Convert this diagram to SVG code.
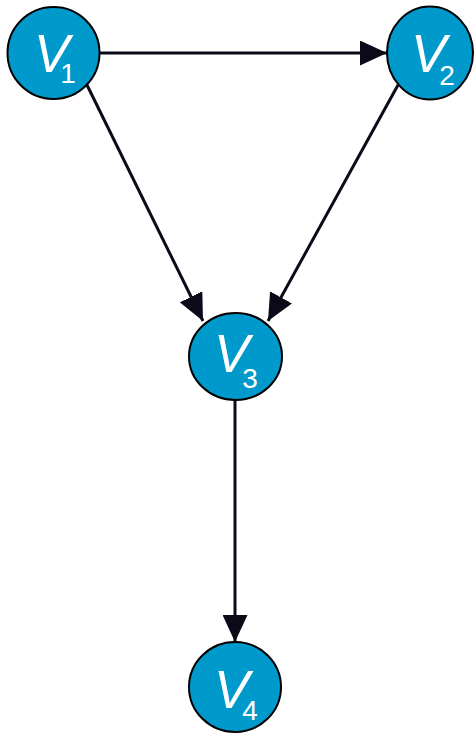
<svg xmlns="http://www.w3.org/2000/svg" width="475" height="733" viewBox="0 0 475 733">
<defs>
<marker id="arr" markerUnits="userSpaceOnUse" markerWidth="27" markerHeight="25" refX="27" refY="12.5" orient="auto">
<path d="M0,0 L27,12.5 L0,25 z" fill="#0a0a18"/>
</marker>
<style>
.node{fill:#0099cc;stroke:#000;stroke-width:2}
.lbl{font-family:"Liberation Sans",Arial,sans-serif;fill:#fff}
.v{font-size:53px;font-style:italic}
.s{font-size:28px;font-style:normal}
.edge{stroke:#0a0a18;stroke-width:3;fill:none;marker-end:url(#arr)}
</style>
</defs>
<rect width="475" height="733" fill="#fff"/>
<g id="edges">
<line class="edge" x1="100" y1="53" x2="387" y2="53"/>
<line class="edge" x1="87" y1="85" x2="203" y2="321"/>
<line class="edge" x1="398" y1="85" x2="268" y2="321"/>
<line class="edge" x1="235" y1="400" x2="235" y2="642"/>
</g>
<g id="V1">
<ellipse class="node" cx="53.5" cy="53" rx="46" ry="46"/>
<text class="lbl" x="34" y="72"><tspan class="v">V</tspan><tspan class="s" dx="-9" dy="11">1</tspan></text>
</g>
<g id="V2">
<ellipse class="node" cx="430" cy="53" rx="43" ry="46.5"/>
<text class="lbl" x="411" y="72"><tspan class="v">V</tspan><tspan class="s" dx="-7" dy="13">2</tspan></text>
</g>
<g id="V3">
<ellipse class="node" cx="235.5" cy="356.5" rx="46.5" ry="43.5"/>
<text class="lbl" x="214" y="372"><tspan class="v">V</tspan><tspan class="s" dx="-7" dy="16">3</tspan></text>
</g>
<g id="V4">
<ellipse class="node" cx="235" cy="687" rx="46" ry="45"/>
<text class="lbl" x="214" y="708"><tspan class="v">V</tspan><tspan class="s" dx="-7" dy="12">4</tspan></text>
</g>
</svg>
